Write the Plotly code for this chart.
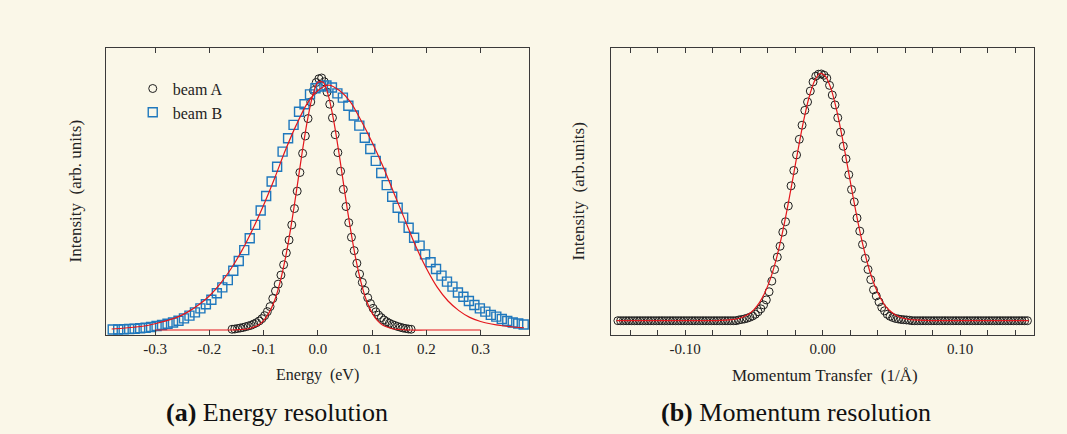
import plotly.graph_objects as go

# ---------------- Panel (a): energy resolution ----------------
beamA_x = [-0.158, -0.153, -0.148, -0.143, -0.138, -0.133, -0.128, -0.123, -0.118, -0.113,
           -0.108, -0.103, -0.098, -0.093, -0.088, -0.083, -0.078, -0.073, -0.068, -0.063,
           -0.058, -0.053, -0.048, -0.043, -0.038, -0.033, -0.028, -0.023, -0.018, -0.013,
           -0.008, -0.003, 0.002, 0.007, 0.012, 0.017, 0.022, 0.027, 0.032, 0.037,
           0.042, 0.047, 0.052, 0.057, 0.062, 0.067, 0.072, 0.077, 0.082, 0.087,
           0.092, 0.097, 0.102, 0.107, 0.112, 0.117, 0.122, 0.127, 0.132, 0.137,
           0.142, 0.147, 0.152, 0.157, 0.162, 0.167, 0.172]
beamA_y = [0.003, 0.004, 0.006, 0.008, 0.010, 0.013, 0.016, 0.019, 0.024, 0.029,
           0.036, 0.045, 0.057, 0.073, 0.093, 0.125, 0.155, 0.182, 0.218, 0.259,
           0.306, 0.357, 0.417, 0.482, 0.551, 0.625, 0.701, 0.770, 0.839, 0.905,
           0.950, 0.982, 0.997, 1.000, 0.985, 0.944, 0.896, 0.842, 0.775, 0.704,
           0.630, 0.558, 0.490, 0.426, 0.368, 0.315, 0.265, 0.222, 0.189, 0.157,
           0.128, 0.105, 0.086, 0.072, 0.059, 0.049, 0.040, 0.033, 0.027, 0.022,
           0.018, 0.014, 0.011, 0.008, 0.006, 0.004, 0.003]

beamB_x = [-0.3780, -0.3679, -0.3578, -0.3477, -0.3376, -0.3275, -0.3174, -0.3073, -0.2972, -0.2871,
           -0.2770, -0.2669, -0.2568, -0.2467, -0.2366, -0.2265, -0.2164, -0.2063, -0.1962, -0.1861,
           -0.1760, -0.1659, -0.1558, -0.1457, -0.1356, -0.1255, -0.1154, -0.1053, -0.0952, -0.0851,
           -0.0750, -0.0649, -0.0548, -0.0447, -0.0346, -0.0245, -0.0144, -0.0043, 0.0058, 0.0159,
           0.0260, 0.0361, 0.0462, 0.0563, 0.0664, 0.0765, 0.0866, 0.0967, 0.1068, 0.1169,
           0.1270, 0.1371, 0.1472, 0.1573, 0.1674, 0.1775, 0.1876, 0.1977, 0.2078, 0.2179,
           0.2280, 0.2381, 0.2482, 0.2583, 0.2684, 0.2785, 0.2886, 0.2987, 0.3088, 0.3189,
           0.3290, 0.3391, 0.3492, 0.3593, 0.3694, 0.3795]
beamB_y = [0.002, 0.002, 0.003, 0.004, 0.005, 0.007, 0.009, 0.012, 0.016, 0.020,
           0.025, 0.030, 0.037, 0.046, 0.057, 0.070, 0.086, 0.102, 0.120, 0.146,
           0.169, 0.198, 0.235, 0.274, 0.317, 0.364, 0.417, 0.474, 0.532, 0.589,
           0.648, 0.708, 0.761, 0.814, 0.866, 0.896, 0.935, 0.959, 0.966, 0.970,
           0.962, 0.939, 0.922, 0.890, 0.851, 0.811, 0.763, 0.718, 0.671, 0.623,
           0.575, 0.529, 0.485, 0.446, 0.406, 0.366, 0.335, 0.300, 0.269, 0.242,
           0.216, 0.192, 0.172, 0.149, 0.132, 0.115, 0.099, 0.086, 0.073, 0.060,
           0.053, 0.044, 0.036, 0.030, 0.026, 0.022]

fitA_x = [-0.30, -0.25, -0.20, -0.17, -0.16,
          -0.15, -0.14, -0.13, -0.12, -0.11, -0.10, -0.09, -0.08, -0.07, -0.06,
          -0.05, -0.04, -0.03, -0.02, -0.01, 0.00, 0.01, 0.02, 0.03, 0.04,
          0.05, 0.06, 0.07, 0.08, 0.09, 0.10, 0.11, 0.12, 0.13, 0.14, 0.15, 0.16,
          0.17, 0.20, 0.25, 0.30]
fitA_y = [0.0, 0.0, 0.0, 0.0, 0.0,
          0.001, 0.002, 0.004, 0.010, 0.019, 0.037, 0.068, 0.115, 0.186, 0.282,
          0.403, 0.542, 0.688, 0.822, 0.926, 0.983, 0.983, 0.926, 0.822, 0.688,
          0.542, 0.403, 0.282, 0.186, 0.115, 0.068, 0.037, 0.019, 0.010, 0.004, 0.002, 0.001,
          0.0, 0.0, 0.0, 0.0]

fitB_x = [-0.38, -0.36, -0.34, -0.32, -0.30, -0.28, -0.26, -0.24, -0.22, -0.20,
          -0.18, -0.16, -0.14, -0.12, -0.10, -0.08, -0.06, -0.04, -0.02, 0.00,
          0.02, 0.04, 0.06, 0.08, 0.10, 0.12, 0.14, 0.16, 0.18, 0.20,
          0.22, 0.24, 0.26, 0.28, 0.30, 0.32, 0.34, 0.36, 0.38]
fitB_y = [0.004, 0.007, 0.011, 0.016, 0.025, 0.036, 0.050, 0.071, 0.099, 0.135,
          0.183, 0.243, 0.315, 0.400, 0.495, 0.600, 0.712, 0.812, 0.897, 0.950,
          0.972, 0.950, 0.905, 0.830, 0.745, 0.650, 0.545, 0.440, 0.335, 0.245,
          0.170, 0.115, 0.077, 0.050, 0.034, 0.024, 0.017, 0.012, 0.009]

energy_ticks = [-0.3, -0.2, -0.1, 0.0, 0.1, 0.2, 0.3]
energy_labels = ["-0.3", "-0.2", "-0.1", "0.0", "0.1", "0.2", "0.3"]

# ---------------- Panel (b): momentum resolution ----------------
mom_x = [-0.149, -0.147, -0.145, -0.143, -0.141, -0.139, -0.137, -0.135, -0.133, -0.131,
         -0.129, -0.127, -0.125, -0.123, -0.121, -0.119, -0.117, -0.115, -0.113, -0.111,
         -0.109, -0.107, -0.105, -0.103, -0.101, -0.099, -0.097, -0.095, -0.093, -0.091,
         -0.089, -0.087, -0.085, -0.083, -0.081, -0.079, -0.077, -0.075, -0.073, -0.071,
         -0.069, -0.067, -0.065, -0.063, -0.061, -0.059, -0.057, -0.055, -0.053, -0.051,
         -0.049, -0.047, -0.045, -0.043, -0.041, -0.039, -0.037, -0.035, -0.033, -0.031,
         -0.029, -0.027, -0.025, -0.023, -0.021, -0.019, -0.017, -0.015, -0.013, -0.011,
         -0.009, -0.007, -0.005, -0.003, -0.001, 0.001, 0.003, 0.005, 0.007, 0.009,
         0.011, 0.013, 0.015, 0.017, 0.019, 0.021, 0.023, 0.025, 0.027, 0.029,
         0.031, 0.033, 0.035, 0.037, 0.039, 0.041, 0.043, 0.045, 0.047, 0.049,
         0.051, 0.053, 0.055, 0.057, 0.059, 0.061, 0.063, 0.065, 0.067, 0.069,
         0.071, 0.073, 0.075, 0.077, 0.079, 0.081, 0.083, 0.085, 0.087, 0.089,
         0.091, 0.093, 0.095, 0.097, 0.099, 0.101, 0.103, 0.105, 0.107, 0.109,
         0.111, 0.113, 0.115, 0.117, 0.119, 0.121, 0.123, 0.125, 0.127, 0.129,
         0.131, 0.133, 0.135, 0.137, 0.139, 0.141, 0.143, 0.145, 0.147, 0.149]
mom_peak = [0.003, 0.005, 0.007, 0.010, 0.014, 0.019, 0.026, 0.036, 0.048, 0.064,
            0.084, 0.117, 0.160, 0.207, 0.257, 0.301, 0.358, 0.400, 0.464, 0.545,
            0.607, 0.670, 0.733, 0.790, 0.850, 0.884, 0.928, 0.965, 0.988, 0.996,
            0.997, 0.992, 0.980, 0.951, 0.912, 0.872, 0.820, 0.762, 0.705, 0.654,
            0.590, 0.530, 0.480, 0.415, 0.362, 0.308, 0.252, 0.207, 0.166, 0.125,
            0.100, 0.076, 0.054, 0.040, 0.026, 0.018, 0.013, 0.009, 0.007, 0.005,
            0.004, 0.003, 0.002]
mom_y = [0.0] * 44 + mom_peak + [0.0] * 43

fitM_x = [-0.150, -0.120, -0.090, -0.078, -0.074,
          -0.070, -0.066, -0.062, -0.058, -0.054, -0.050, -0.046, -0.042, -0.038, -0.034,
          -0.030, -0.026, -0.022, -0.018, -0.014, -0.010, -0.006, -0.002, 0.002, 0.006,
          0.010, 0.014, 0.018, 0.022, 0.026, 0.030, 0.034, 0.038, 0.042, 0.046,
          0.050, 0.054, 0.058, 0.062, 0.066, 0.070,
          0.074, 0.078, 0.090, 0.120, 0.150]
fitM_y = [0.0, 0.0, 0.0, 0.0005, 0.001,
          0.002, 0.004, 0.008, 0.015, 0.026, 0.045, 0.073, 0.114, 0.170, 0.244,
          0.337, 0.446, 0.565, 0.688, 0.804, 0.901, 0.968, 0.999, 0.988, 0.939,
          0.855, 0.748, 0.627, 0.504, 0.389, 0.289, 0.205, 0.140, 0.092, 0.057,
          0.035, 0.020, 0.011, 0.006, 0.003, 0.002,
          0.001, 0.0003, 0.0, 0.0, 0.0]

mom_ticks = [-0.14, -0.12, -0.10, -0.08, -0.06, -0.04, -0.02, 0.00, 0.02, 0.04,
             0.06, 0.08, 0.10, 0.12, 0.14]
mom_labels = ["", "", "-0.10", "", "", "", "", "0.00", "", "", "", "", "0.10", "", ""]

# ---------------- styling ----------------
BG = "#faf7e8"
AX = "#3a3a3a"
RED = "#e3161c"
BLUE = "#1f78bd"
DARK = "#1e1e1e"
FONT = "Liberation Serif"

fig = go.Figure()

fig.add_trace(go.Scatter(x=beamA_x, y=beamA_y, mode="markers", name="beam A",
                         legendgroup="a",
                         marker=dict(symbol="circle-open", size=8, color=DARK,
                                     line=dict(width=1, color=DARK)),
                         xaxis="x", yaxis="y"))
fig.add_trace(go.Scatter(x=beamB_x, y=beamB_y, mode="markers", name="beam B",
                         legendgroup="b",
                         marker=dict(symbol="square-open", size=9, color=BLUE,
                                     line=dict(width=1.4, color=BLUE)),
                         xaxis="x", yaxis="y"))
fig.add_trace(go.Scatter(x=fitA_x, y=fitA_y, mode="lines", showlegend=False,
                         line=dict(color=RED, width=1.2, shape="spline", smoothing=0.8),
                         xaxis="x", yaxis="y"))
fig.add_trace(go.Scatter(x=fitB_x, y=fitB_y, mode="lines", showlegend=False,
                         line=dict(color=RED, width=1.2, shape="spline", smoothing=0.8),
                         xaxis="x", yaxis="y"))

fig.add_trace(go.Scatter(x=mom_x, y=mom_y, mode="markers", showlegend=False,
                         marker=dict(symbol="circle-open", size=8, color=DARK,
                                     line=dict(width=1, color=DARK)),
                         xaxis="x2", yaxis="y2"))
fig.add_trace(go.Scatter(x=fitM_x, y=fitM_y, mode="lines", showlegend=False,
                         line=dict(color=RED, width=1.2, shape="spline", smoothing=0.8),
                         xaxis="x2", yaxis="y2"))

xcommon = dict(showline=True, linecolor=AX, linewidth=1.2, mirror="ticks",
               ticks="inside", ticklen=5, tickwidth=1, tickcolor=AX,
               showgrid=False, zeroline=False,
               tickfont=dict(family=FONT, size=15, color="#222"))
ycommon = dict(showline=True, linecolor=AX, linewidth=1.2, mirror=True,
               ticks="", showticklabels=False, showgrid=False, zeroline=False)

fig.update_layout(
    width=1067, height=434,
    margin=dict(l=0, r=0, t=0, b=0),
    paper_bgcolor=BG, plot_bgcolor=BG,
    xaxis=dict(domain=[0.0993, 0.4958], range=[-0.3905, 0.3893],
               tickmode="array", tickvals=energy_ticks, ticktext=energy_labels,
               anchor="y", **xcommon),
    yaxis=dict(domain=[0.2281, 0.8894], range=[-0.0198, 1.119], anchor="x", **ycommon),
    xaxis2=dict(domain=[0.5724, 0.9691], range=[-0.1542, 0.1538],
                tickmode="array", tickvals=mom_ticks, ticktext=mom_labels,
                anchor="y2", **xcommon),
    yaxis2=dict(domain=[0.2281, 0.8894], range=[-0.0578, 1.102], anchor="x2", **ycommon),
    showlegend=True,
    legend=dict(x=0.1244, y=0.835, xanchor="left", yanchor="top",
                bgcolor="rgba(0,0,0,0)", borderwidth=0,
                font=dict(family=FONT, size=16, color="#222"),
                tracegroupgap=0, itemsizing="trace"),
)

def label(text, x, y, size, angle=0, color="#222"):
    fig.add_annotation(text=text, x=x, y=y, xref="paper", yref="paper",
                       xanchor="center", yanchor="middle", showarrow=False,
                       textangle=angle, font=dict(family=FONT, size=size, color=color))

label("Energy\u00a0 (eV)", 0.2971, 0.1359, 16)
label("Momentum Transfer\u00a0 (1/Å)", 0.7732, 0.1359, 17)
label("Intensity\u00a0 (arb. units)", 0.0703, 0.5588, 17, angle=-90)
label("Intensity\u00a0 (arb.units)", 0.5417, 0.5588, 17, angle=-90)
label("<b>(a)</b> Energy resolution", 0.2593, 0.0484, 26, color="#111")
label("<b>(b)</b> Momentum resolution", 0.7458, 0.0484, 26, color="#111")

fig.write_html(
    "out.html",
    config={"responsive": False, "displayModeBar": False},
    post_script="document.body.style.margin='0';document.body.style.padding='0';"
                "document.body.style.background='" + BG + "';"
                "document.documentElement.style.overflow='hidden';",
)
